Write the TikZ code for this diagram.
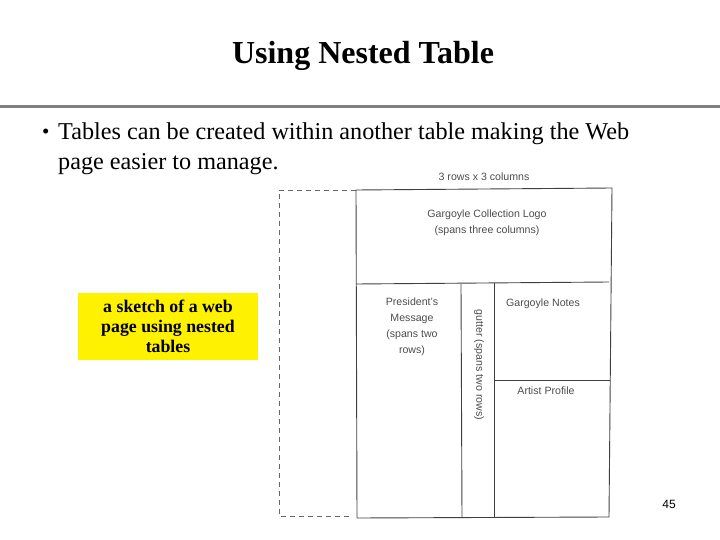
\documentclass[tikz,border=0pt]{standalone}
\usepackage{fontspec}
\setmainfont{Liberation Serif}
\setsansfont{Liberation Sans}
\usetikzlibrary{positioning}
\tikzstyle{sketchline} = [draw=black!75, line width=0.9pt]
\tikzstyle{dashline} = [draw=black!60, line width=0.8pt, dash pattern=on 5pt off 4pt]
\tikzstyle{sketchtext} = [font=\sffamily\fontsize{10.6}{16}\selectfont, text=black!70, align=center, inner sep=0pt]
\tikzstyle{bodytext} = [font=\fontsize{24.2}{30}\selectfont, anchor=base west, inner sep=0pt]

\begin{document}
\begin{tikzpicture}[x=1pt,y=-1pt]
\useasboundingbox (0,0) rectangle (720,540);
% title and rule
\node (title) at (363,56) {\fontsize{32}{34}\selectfont\bfseries Using Nested Table};
\coordinate (rl) at (0,107);
\coordinate (rr) at (720,107);
\draw[line width=3pt, draw=black!50] (rl) -- (rr);
% bullet text
\node[bodytext, font=\fontsize{21}{24}\selectfont] (bullet) at (42,139) {\textbullet};
\node[bodytext] (line1) at (58,140) {Tables can be created within another table making the Web};
\node[bodytext] (line2) at (58,170) {page easier to manage.};
% sketch corners
\coordinate (tl) at (356,190);
\coordinate (tr) at (612,188);
\coordinate (bl) at (357,518);
\coordinate (br) at (609,517);
\coordinate (ml) at (356,284);
\coordinate (mr) at (609,282);
\coordinate (g1t) at (461,284);
\coordinate (g1b) at (462,518);
\coordinate (g2t) at (494,283);
\coordinate (g2b) at (494,517);
\coordinate (nl) at (494,380);
\coordinate (nr) at (610,380);
\coordinate (dtl) at (279,190);
\coordinate (dbl) at (279,516);
\coordinate (dbr) at (352,516);
\path[sketchline] (tl) -- (tr) -- (br) -- (bl) -- cycle;
\path[sketchline] (ml) -- (mr);
\path[sketchline] (g1t) -- (g1b);
\path[sketchline] (g2t) -- (g2b);
\path[sketchline] (nl) -- (nr);
\path[dashline] (tl) -- (dtl) -- (dbl) -- (dbr);
% sketch labels
\node[sketchtext] (grid) at (484,177) {3 rows x 3 columns};
\node[sketchtext] (logo) at (487,223) {Gargoyle Collection Logo\\(spans three columns)};
\node[sketchtext] (pres) at (412,327) {President's\\Message\\(spans two\\rows)};
\node[sketchtext, rotate=-90] (gutter) at (479,365) {gutter (spans two rows)};
\node[sketchtext] (notes) at (543,304) {Gargoyle Notes};
\node[sketchtext] (artist) at (546,391) {Artist Profile};
% yellow note
\node[fill=yellow, minimum width=180, minimum height=67, align=center, inner sep=0pt,
      font=\fontsize{17.8}{20}\selectfont\bfseries] (note) at (168,326.5) {a sketch of a web\\page using nested\\tables};
\node[font=\sffamily\fontsize{12}{14}\selectfont] (page) at (669,504) {45};
\end{tikzpicture}
\end{document}
